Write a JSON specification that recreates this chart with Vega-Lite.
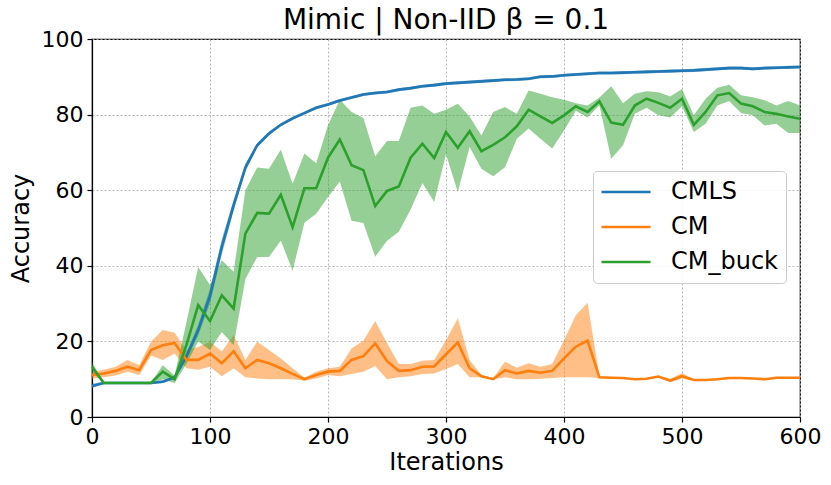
{
  "$schema": "https://vega.github.io/schema/vega-lite/v6.json",
  "width": 708,
  "height": 378,
  "autosize": {"type": "none"},
  "padding": {"left": 92, "top": 39, "right": 31, "bottom": 68},
  "background": "white",
  "title": {"text": "Mimic | Non-IID β = 0.1", "font": "DejaVu Sans", "fontSize": 28, "fontWeight": "normal", "color": "black", "anchor": "middle", "offset": -7},
  "config": {
    "view": {"stroke": "black", "strokeWidth": 1.2},
    "axis": {
      "labelFont": "DejaVu Sans", "labelFontSize": 22, "labelColor": "black", "labelFlush": false,
      "titleFont": "DejaVu Sans", "titleFontSize": 24, "titleFontWeight": "normal", "titleColor": "black",
      "domainColor": "black", "domainWidth": 1.2, "tickColor": "black", "tickSize": 5, "tickWidth": 1.2,
      "gridColor": "#b0b0b0", "gridDash": [2, 2], "gridWidth": 0.9, "labelPadding": 4
    },
    "legend": {
      "title": null, "orient": "none", "legendX": 501, "legendY": 132,
      "symbolType": "stroke", "symbolSize": 2401, "symbolStrokeWidth": 2.6, "symbolOpacity": 1,
      "clipHeight": 28, "rowPadding": 7, "padding": 7, "labelOffset": 19,
      "labelFont": "DejaVu Sans", "labelFontSize": 24, "labelColor": "black",
      "fillColor": "rgba(255,255,255,0.85)", "strokeColor": "#cccccc", "cornerRadius": 4
    }
  },
  "data": {"values": [
    {"s":"CMLS","it":0,"m":8.2,"lo":7.7,"hi":8.8},
    {"s":"CMLS","it":10,"m":9,"lo":8.7,"hi":9.3},
    {"s":"CMLS","it":20,"m":9,"lo":8.7,"hi":9.3},
    {"s":"CMLS","it":30,"m":9,"lo":8.7,"hi":9.3},
    {"s":"CMLS","it":40,"m":9,"lo":8.7,"hi":9.3},
    {"s":"CMLS","it":50,"m":9,"lo":8.7,"hi":9.3},
    {"s":"CMLS","it":60,"m":9.3,"lo":9,"hi":9.7},
    {"s":"CMLS","it":70,"m":10.5,"lo":10,"hi":11},
    {"s":"CMLS","it":80,"m":16,"lo":15,"hi":17},
    {"s":"CMLS","it":90,"m":23,"lo":21.5,"hi":24.5},
    {"s":"CMLS","it":100,"m":32,"lo":30,"hi":34},
    {"s":"CMLS","it":110,"m":45,"lo":43,"hi":47},
    {"s":"CMLS","it":120,"m":56,"lo":54.5,"hi":57.5},
    {"s":"CMLS","it":130,"m":66,"lo":65,"hi":67},
    {"s":"CMLS","it":140,"m":71.9,"lo":71.3,"hi":72.5},
    {"s":"CMLS","it":150,"m":75,"lo":74.5,"hi":75.5},
    {"s":"CMLS","it":160,"m":77.3,"lo":76.9,"hi":77.7},
    {"s":"CMLS","it":170,"m":79,"lo":78.6,"hi":79.4},
    {"s":"CMLS","it":180,"m":80.4,"lo":80,"hi":80.8},
    {"s":"CMLS","it":190,"m":81.8,"lo":81.4,"hi":82.2},
    {"s":"CMLS","it":200,"m":82.7,"lo":82.3,"hi":83.1},
    {"s":"CMLS","it":210,"m":83.7,"lo":83.3,"hi":84.1},
    {"s":"CMLS","it":220,"m":84.5,"lo":84.1,"hi":84.9},
    {"s":"CMLS","it":230,"m":85.3,"lo":84.9,"hi":85.7},
    {"s":"CMLS","it":240,"m":85.7,"lo":85.3,"hi":86.1},
    {"s":"CMLS","it":250,"m":86,"lo":85.6,"hi":86.4},
    {"s":"CMLS","it":260,"m":86.6,"lo":86.2,"hi":87},
    {"s":"CMLS","it":270,"m":87,"lo":86.6,"hi":87.4},
    {"s":"CMLS","it":280,"m":87.5,"lo":87.1,"hi":87.9},
    {"s":"CMLS","it":290,"m":87.8,"lo":87.4,"hi":88.2},
    {"s":"CMLS","it":300,"m":88.2,"lo":87.8,"hi":88.6},
    {"s":"CMLS","it":310,"m":88.4,"lo":88,"hi":88.8},
    {"s":"CMLS","it":320,"m":88.6,"lo":88.2,"hi":89},
    {"s":"CMLS","it":330,"m":88.8,"lo":88.4,"hi":89.2},
    {"s":"CMLS","it":340,"m":89,"lo":88.6,"hi":89.4},
    {"s":"CMLS","it":350,"m":89.2,"lo":88.8,"hi":89.6},
    {"s":"CMLS","it":360,"m":89.3,"lo":88.9,"hi":89.7},
    {"s":"CMLS","it":370,"m":89.5,"lo":89.1,"hi":89.9},
    {"s":"CMLS","it":380,"m":90,"lo":89.6,"hi":90.4},
    {"s":"CMLS","it":390,"m":90.1,"lo":89.7,"hi":90.5},
    {"s":"CMLS","it":400,"m":90.4,"lo":90,"hi":90.8},
    {"s":"CMLS","it":410,"m":90.6,"lo":90.2,"hi":91},
    {"s":"CMLS","it":420,"m":90.8,"lo":90.4,"hi":91.2},
    {"s":"CMLS","it":430,"m":91,"lo":90.6,"hi":91.4},
    {"s":"CMLS","it":440,"m":91,"lo":90.6,"hi":91.4},
    {"s":"CMLS","it":450,"m":91.1,"lo":90.7,"hi":91.5},
    {"s":"CMLS","it":460,"m":91.2,"lo":90.8,"hi":91.6},
    {"s":"CMLS","it":470,"m":91.3,"lo":90.9,"hi":91.7},
    {"s":"CMLS","it":480,"m":91.4,"lo":91,"hi":91.8},
    {"s":"CMLS","it":490,"m":91.5,"lo":91.1,"hi":91.9},
    {"s":"CMLS","it":500,"m":91.6,"lo":91.2,"hi":92},
    {"s":"CMLS","it":510,"m":91.7,"lo":91.3,"hi":92.1},
    {"s":"CMLS","it":520,"m":91.9,"lo":91.5,"hi":92.3},
    {"s":"CMLS","it":530,"m":92.1,"lo":91.7,"hi":92.5},
    {"s":"CMLS","it":540,"m":92.3,"lo":91.9,"hi":92.7},
    {"s":"CMLS","it":550,"m":92.3,"lo":91.9,"hi":92.7},
    {"s":"CMLS","it":560,"m":92.1,"lo":91.7,"hi":92.5},
    {"s":"CMLS","it":570,"m":92.3,"lo":91.9,"hi":92.7},
    {"s":"CMLS","it":580,"m":92.4,"lo":92,"hi":92.8},
    {"s":"CMLS","it":590,"m":92.5,"lo":92.1,"hi":92.9},
    {"s":"CMLS","it":600,"m":92.6,"lo":92.2,"hi":93},
    {"s":"CM","it":0,"m":11.1,"lo":10.2,"hi":12},
    {"s":"CM","it":10,"m":11.5,"lo":10.5,"hi":12.5},
    {"s":"CM","it":20,"m":12.2,"lo":11,"hi":13.3},
    {"s":"CM","it":30,"m":13.3,"lo":12,"hi":15.1},
    {"s":"CM","it":40,"m":12.4,"lo":11.1,"hi":13.7},
    {"s":"CM","it":50,"m":17.7,"lo":16.3,"hi":19.9},
    {"s":"CM","it":60,"m":19,"lo":15.1,"hi":23},
    {"s":"CM","it":70,"m":19.6,"lo":16.8,"hi":22.3},
    {"s":"CM","it":80,"m":15.1,"lo":12.9,"hi":17.7},
    {"s":"CM","it":90,"m":15.1,"lo":12.5,"hi":18.5},
    {"s":"CM","it":100,"m":16.8,"lo":13.3,"hi":19.9},
    {"s":"CM","it":110,"m":14.2,"lo":10.8,"hi":17.3},
    {"s":"CM","it":120,"m":17.4,"lo":12.9,"hi":21.7},
    {"s":"CM","it":130,"m":12.9,"lo":10.5,"hi":15.1},
    {"s":"CM","it":140,"m":15.1,"lo":10.2,"hi":19.9},
    {"s":"CM","it":150,"m":14.2,"lo":10,"hi":17.7},
    {"s":"CM","it":160,"m":12.9,"lo":10,"hi":15.5},
    {"s":"CM","it":170,"m":11.4,"lo":10,"hi":12.9},
    {"s":"CM","it":180,"m":10,"lo":9.6,"hi":10.4},
    {"s":"CM","it":190,"m":11.1,"lo":10.2,"hi":12},
    {"s":"CM","it":200,"m":12,"lo":11.1,"hi":12.9},
    {"s":"CM","it":210,"m":12.2,"lo":10.8,"hi":13.3},
    {"s":"CM","it":220,"m":15.1,"lo":11.4,"hi":18.1},
    {"s":"CM","it":230,"m":16.1,"lo":12,"hi":20.2},
    {"s":"CM","it":240,"m":19.5,"lo":13.5,"hi":25.4},
    {"s":"CM","it":250,"m":14.8,"lo":10,"hi":19.6},
    {"s":"CM","it":260,"m":12.2,"lo":10.5,"hi":14},
    {"s":"CM","it":270,"m":12.4,"lo":10.8,"hi":14},
    {"s":"CM","it":280,"m":13.3,"lo":11.4,"hi":14.9},
    {"s":"CM","it":290,"m":13.4,"lo":11.5,"hi":15.1},
    {"s":"CM","it":300,"m":16.6,"lo":12.7,"hi":20.3},
    {"s":"CM","it":310,"m":19.7,"lo":14,"hi":26.1},
    {"s":"CM","it":320,"m":12.9,"lo":10.5,"hi":15.1},
    {"s":"CM","it":330,"m":10.8,"lo":10.5,"hi":11.1},
    {"s":"CM","it":340,"m":10,"lo":9.9,"hi":10.3},
    {"s":"CM","it":350,"m":12.4,"lo":10.5,"hi":14.6},
    {"s":"CM","it":360,"m":11.5,"lo":10,"hi":13},
    {"s":"CM","it":370,"m":12.2,"lo":10,"hi":14.2},
    {"s":"CM","it":380,"m":11.7,"lo":10.1,"hi":13.3},
    {"s":"CM","it":390,"m":12.2,"lo":10.3,"hi":14},
    {"s":"CM","it":400,"m":15.5,"lo":10.5,"hi":20.3},
    {"s":"CM","it":410,"m":18.6,"lo":10.5,"hi":26.9},
    {"s":"CM","it":420,"m":20.2,"lo":10.5,"hi":30.2},
    {"s":"CM","it":430,"m":10.5,"lo":10.3,"hi":10.8},
    {"s":"CM","it":440,"m":10.4,"lo":10.2,"hi":10.6},
    {"s":"CM","it":450,"m":10.3,"lo":10.1,"hi":10.5},
    {"s":"CM","it":460,"m":10,"lo":9.8,"hi":10.2},
    {"s":"CM","it":470,"m":10.1,"lo":9.9,"hi":10.3},
    {"s":"CM","it":480,"m":10.7,"lo":10.5,"hi":10.9},
    {"s":"CM","it":490,"m":9.6,"lo":9.2,"hi":10.1},
    {"s":"CM","it":500,"m":10.8,"lo":10.2,"hi":11.6},
    {"s":"CM","it":510,"m":9.8,"lo":9.6,"hi":10},
    {"s":"CM","it":520,"m":9.8,"lo":9.6,"hi":10},
    {"s":"CM","it":530,"m":10,"lo":9.8,"hi":10.2},
    {"s":"CM","it":540,"m":10.3,"lo":10.1,"hi":10.5},
    {"s":"CM","it":550,"m":10.3,"lo":10.1,"hi":10.5},
    {"s":"CM","it":560,"m":10.2,"lo":10,"hi":10.4},
    {"s":"CM","it":570,"m":10,"lo":9.8,"hi":10.2},
    {"s":"CM","it":580,"m":10.4,"lo":10.2,"hi":10.6},
    {"s":"CM","it":590,"m":10.4,"lo":10.2,"hi":10.6},
    {"s":"CM","it":600,"m":10.4,"lo":10.2,"hi":10.6},
    {"s":"CM_buck","it":0,"m":13.3,"lo":12,"hi":14.5},
    {"s":"CM_buck","it":10,"m":9,"lo":8.8,"hi":9.2},
    {"s":"CM_buck","it":20,"m":9,"lo":8.8,"hi":9.2},
    {"s":"CM_buck","it":30,"m":9,"lo":8.8,"hi":9.2},
    {"s":"CM_buck","it":40,"m":9,"lo":8.8,"hi":9.2},
    {"s":"CM_buck","it":50,"m":9,"lo":8.8,"hi":9.2},
    {"s":"CM_buck","it":60,"m":12,"lo":10,"hi":13.7},
    {"s":"CM_buck","it":70,"m":10,"lo":9,"hi":11},
    {"s":"CM_buck","it":80,"m":19,"lo":14,"hi":25},
    {"s":"CM_buck","it":90,"m":29.6,"lo":20,"hi":39.7},
    {"s":"CM_buck","it":100,"m":25.4,"lo":17.7,"hi":34.9},
    {"s":"CM_buck","it":110,"m":32.2,"lo":22.5,"hi":41.5},
    {"s":"CM_buck","it":120,"m":28.7,"lo":19,"hi":38.4},
    {"s":"CM_buck","it":130,"m":48.5,"lo":36.5,"hi":60},
    {"s":"CM_buck","it":140,"m":54,"lo":42.3,"hi":66},
    {"s":"CM_buck","it":150,"m":53.8,"lo":42.3,"hi":65.7},
    {"s":"CM_buck","it":160,"m":58.8,"lo":46.7,"hi":70.7},
    {"s":"CM_buck","it":170,"m":50.2,"lo":38.7,"hi":61.7},
    {"s":"CM_buck","it":180,"m":60.5,"lo":51.4,"hi":69.7},
    {"s":"CM_buck","it":190,"m":60.5,"lo":53.8,"hi":67.1},
    {"s":"CM_buck","it":200,"m":68.6,"lo":58.2,"hi":77.2},
    {"s":"CM_buck","it":210,"m":73.4,"lo":62.3,"hi":83.9},
    {"s":"CM_buck","it":220,"m":66.6,"lo":51.9,"hi":80.7},
    {"s":"CM_buck","it":230,"m":65.3,"lo":51.3,"hi":79.1},
    {"s":"CM_buck","it":240,"m":55.8,"lo":42.4,"hi":69},
    {"s":"CM_buck","it":250,"m":59.8,"lo":46.6,"hi":73},
    {"s":"CM_buck","it":260,"m":61,"lo":49,"hi":73},
    {"s":"CM_buck","it":270,"m":68.6,"lo":54.9,"hi":81.8},
    {"s":"CM_buck","it":280,"m":72.3,"lo":61.9,"hi":82.4},
    {"s":"CM_buck","it":290,"m":68.5,"lo":56.9,"hi":80.2},
    {"s":"CM_buck","it":300,"m":75.4,"lo":69.5,"hi":81.3},
    {"s":"CM_buck","it":310,"m":71.2,"lo":59.5,"hi":82.9},
    {"s":"CM_buck","it":320,"m":75.6,"lo":71.4,"hi":79.5},
    {"s":"CM_buck","it":330,"m":70.3,"lo":65.7,"hi":74.5},
    {"s":"CM_buck","it":340,"m":72,"lo":63.7,"hi":80.7},
    {"s":"CM_buck","it":350,"m":74,"lo":66.1,"hi":82},
    {"s":"CM_buck","it":360,"m":76.9,"lo":73.6,"hi":80.2},
    {"s":"CM_buck","it":370,"m":81.3,"lo":76.3,"hi":86.4},
    {"s":"CM_buck","it":380,"m":79.5,"lo":73.6,"hi":85.5},
    {"s":"CM_buck","it":390,"m":77.8,"lo":71,"hi":84.6},
    {"s":"CM_buck","it":400,"m":79.8,"lo":75.8,"hi":83.9},
    {"s":"CM_buck","it":410,"m":82.2,"lo":81,"hi":83},
    {"s":"CM_buck","it":420,"m":80.7,"lo":79.2,"hi":82.4},
    {"s":"CM_buck","it":430,"m":83.5,"lo":82.5,"hi":84.5},
    {"s":"CM_buck","it":440,"m":77.9,"lo":68.3,"hi":87.5},
    {"s":"CM_buck","it":450,"m":77.3,"lo":71.9,"hi":83},
    {"s":"CM_buck","it":460,"m":82.4,"lo":80.2,"hi":85.5},
    {"s":"CM_buck","it":470,"m":84.2,"lo":81.8,"hi":86.2},
    {"s":"CM_buck","it":480,"m":83.1,"lo":79.8,"hi":85.9},
    {"s":"CM_buck","it":490,"m":81.8,"lo":79.2,"hi":84.8},
    {"s":"CM_buck","it":500,"m":84.2,"lo":82.2,"hi":86.8},
    {"s":"CM_buck","it":510,"m":77.3,"lo":75.4,"hi":79.8},
    {"s":"CM_buck","it":520,"m":80.7,"lo":77.6,"hi":84.2},
    {"s":"CM_buck","it":530,"m":85.1,"lo":82.4,"hi":87.1},
    {"s":"CM_buck","it":540,"m":85.7,"lo":83.6,"hi":87.9},
    {"s":"CM_buck","it":550,"m":82.9,"lo":80.4,"hi":85.1},
    {"s":"CM_buck","it":560,"m":82.2,"lo":79.8,"hi":84.6},
    {"s":"CM_buck","it":570,"m":80.7,"lo":77.1,"hi":83.8},
    {"s":"CM_buck","it":580,"m":80.2,"lo":77.6,"hi":82.4},
    {"s":"CM_buck","it":590,"m":79.5,"lo":75.1,"hi":83.6},
    {"s":"CM_buck","it":600,"m":78.9,"lo":75.1,"hi":82.4}
  ]},
  "encoding": {
    "x": {"field": "it", "type": "quantitative", "title": "Iterations",
          "scale": {"domain": [0, 600], "nice": false, "zero": false},
          "axis": {"values": [0, 100, 200, 300, 400, 500, 600], "titlePadding": 3}}
  },
  "layer": [
    {
      "mark": {"type": "area", "opacity": 0.5, "interpolate": "linear"},
      "encoding": {
        "y": {"field": "lo", "type": "quantitative", "scale": {"domain": [0, 100], "nice": false}},
        "y2": {"field": "hi"},
        "fill": {"field": "s", "type": "nominal",
                 "scale": {"domain": ["CMLS", "CM", "CM_buck"], "range": ["#1f77b4", "#ff7f0e", "#2ca02c"]}}
      }
    },
    {
      "mark": {"type": "line", "strokeWidth": 2.6},
      "encoding": {
        "y": {"field": "m", "type": "quantitative", "title": "Accuracy",
              "scale": {"domain": [0, 100], "nice": false},
              "axis": {"values": [0, 20, 40, 60, 80, 100], "titlePadding": 8}},
        "stroke": {"field": "s", "type": "nominal",
                  "scale": {"domain": ["CMLS", "CM", "CM_buck"], "range": ["#1f77b4", "#ff7f0e", "#2ca02c"]}}
      }
    }
  ]
}
